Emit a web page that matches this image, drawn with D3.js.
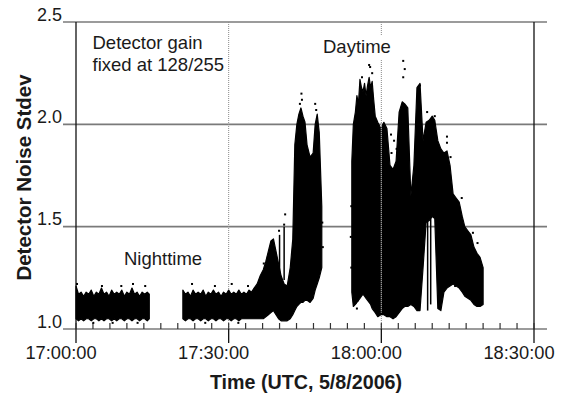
<!DOCTYPE html>
<html>
<head>
<meta charset="utf-8">
<script src="https://cdn.jsdelivr.net/npm/d3@7"></script>
<style>
  body { margin: 0; background: #fff; }
  svg { display: block; font-family: "Liberation Sans", Arial, sans-serif; }
</style>
</head>
<body>
<svg id="chart" width="562" height="396"></svg>
<script>
// minutes after 17:00:00 UTC, [t, low, high] of the dense point cloud
const nightA = [
  [0.0, 1.05, 1.21], [0.5, 1.04, 1.17], [1.0, 1.05, 1.18], [1.5, 1.04, 1.16],
  [2.0, 1.05, 1.18], [2.5, 1.05, 1.17], [3.0, 1.04, 1.19], [3.5, 1.05, 1.16],
  [4.0, 1.05, 1.18], [4.5, 1.04, 1.17], [5.0, 1.05, 1.20], [5.5, 1.04, 1.17],
  [6.0, 1.05, 1.18], [6.5, 1.05, 1.16], [7.0, 1.04, 1.19], [7.5, 1.05, 1.17],
  [8.0, 1.04, 1.18], [8.5, 1.05, 1.17], [9.0, 1.05, 1.19], [9.5, 1.04, 1.16],
  [10.0, 1.05, 1.18], [10.5, 1.05, 1.17], [11.0, 1.04, 1.20], [11.5, 1.05, 1.17],
  [12.0, 1.05, 1.18], [12.5, 1.04, 1.16], [13.0, 1.05, 1.18], [13.5, 1.05, 1.17],
  [14.0, 1.04, 1.18], [14.4, 1.05, 1.17]
];

const nightB = [
  [21.0, 1.05, 1.19], [21.5, 1.04, 1.17], [22.0, 1.05, 1.18], [22.5, 1.05, 1.16],
  [23.0, 1.04, 1.19], [23.5, 1.05, 1.17], [24.0, 1.05, 1.18], [24.5, 1.04, 1.17],
  [25.0, 1.05, 1.19], [25.5, 1.05, 1.16], [26.0, 1.04, 1.18], [26.5, 1.05, 1.17],
  [27.0, 1.05, 1.19], [27.5, 1.04, 1.17], [28.0, 1.05, 1.18], [28.5, 1.05, 1.16],
  [29.0, 1.04, 1.18], [29.5, 1.05, 1.17], [30.0, 1.05, 1.19], [30.5, 1.04, 1.17],
  [31.0, 1.05, 1.18], [31.5, 1.05, 1.17], [32.0, 1.04, 1.19], [32.5, 1.05, 1.17],
  [33.0, 1.05, 1.18], [33.5, 1.05, 1.17], [34.0, 1.05, 1.19], [34.5, 1.05, 1.18],
  [35.0, 1.05, 1.20], [35.6, 1.05, 1.22], [36.2, 1.05, 1.26], [36.8, 1.05, 1.29],
  [37.3, 1.06, 1.33], [37.8, 1.07, 1.38], [38.3, 1.08, 1.43], [38.8, 1.09, 1.44],
  [39.3, 1.07, 1.38], [39.8, 1.05, 1.32], [40.3, 1.04, 1.26], [40.9, 1.04, 1.22],
  [41.5, 1.04, 1.21], [42.1, 1.05, 1.30], [42.6, 1.07, 1.44], [43.0, 1.09, 1.90],
  [43.4, 1.11, 2.00], [43.8, 1.12, 2.05], [44.2, 1.13, 2.08], [44.6, 1.13, 2.04],
  [45.0, 1.14, 2.01], [45.4, 1.14, 1.90], [46.0, 1.13, 1.84], [46.6, 1.15, 1.86],
  [47.0, 1.19, 2.00], [47.4, 1.22, 2.05], [47.8, 1.25, 1.96], [48.3, 1.30, 1.60]
];

const daytime = [
  [54.2, 1.18, 1.82], [54.5, 1.11, 2.00], [54.9, 1.12, 2.06], [55.2, 1.13, 2.14],
  [55.5, 1.14, 2.10], [55.8, 1.15, 2.22], [56.1, 1.16, 2.18], [56.4, 1.17, 2.16],
  [56.7, 1.16, 2.20], [57.0, 1.15, 2.14], [57.3, 1.14, 2.19], [57.6, 1.13, 2.23],
  [57.9, 1.12, 2.18], [58.2, 1.10, 2.21], [58.5, 1.09, 2.12], [58.8, 1.08, 2.04],
  [59.3, 1.06, 2.01], [59.9, 1.07, 1.98], [60.5, 1.07, 2.01], [61.1, 1.06, 1.98],
  [61.7, 1.06, 1.80], [62.3, 1.05, 1.78], [62.9, 1.06, 1.82], [63.5, 1.08, 2.06],
  [64.1, 1.10, 2.11], [64.6, 1.11, 2.10], [65.2, 1.11, 2.08], [65.8, 1.12, 1.65],
  [66.4, 1.11, 1.80], [67.0, 1.09, 2.18], [67.6, 1.09, 2.20], [68.2, 1.30, 1.92],
  [68.8, 1.52, 2.01], [69.4, 1.53, 2.02], [70.0, 1.55, 2.04], [70.5, 1.54, 2.02],
  [71.1, 1.10, 1.92], [71.7, 1.09, 1.88], [72.3, 1.18, 1.86], [72.9, 1.20, 1.87],
  [73.5, 1.21, 1.80], [74.1, 1.22, 1.66], [74.7, 1.21, 1.64], [75.3, 1.20, 1.62],
  [75.9, 1.18, 1.55], [76.4, 1.16, 1.50], [77.0, 1.15, 1.48], [77.6, 1.14, 1.46],
  [78.2, 1.12, 1.40], [78.8, 1.11, 1.37], [79.4, 1.11, 1.35], [80.0, 1.12, 1.30]
];

const streaks = [
  [69.1, 1.09, 1.55], [69.7, 1.12, 1.55], [40.0, 1.20, 1.46], [40.9, 1.24, 1.50]
];

const dots = [
  [44.3, 2.15], [44.4, 2.12], [44.0, 2.10], [47.0, 2.10], [47.2, 2.07], [41.1, 1.56],
  [40.9, 1.51], [39.9, 1.48], [37.7, 1.35], [36.9, 1.32], [57.6, 2.29], [57.8, 2.28],
  [58.2, 2.25], [56.2, 2.23], [64.3, 2.31], [64.3, 2.23], [64.6, 2.27], [67.6, 2.19],
  [69.0, 2.06], [70.5, 2.04], [72.9, 1.94], [72.9, 1.91], [75.8, 1.64], [78.0, 1.47],
  [74.5, 1.21], [76.0, 1.26], [77.4, 1.21], [55.4, 1.14], [55.0, 1.13], [55.2, 1.10],
  [54.1, 1.30], [54.0, 1.45], [54.1, 1.60], [62.0, 1.86], [62.5, 1.92], [63.0, 1.88],
  [61.9, 1.95], [73.6, 1.84], [78.9, 1.42], [79.3, 1.20], [48.5, 1.40], [48.4, 1.52],
  [0.2, 1.22], [5.1, 1.21], [8.9, 1.21], [11.2, 1.22], [13.6, 1.21], [22.8, 1.22],
  [27.3, 1.21], [30.6, 1.22], [33.8, 1.21], [3.4, 1.03], [7.2, 1.03], [12.1, 1.03],
  [25.4, 1.03], [31.9, 1.03]
];

const yTicks = [1.0, 1.5, 2.0, 2.5];
const xTickMinutes = [0, 30, 60, 90];
const minorStepSeconds = 200;

const start = Date.UTC(2006, 4, 8, 17, 0, 0);
const toDate = (m) => new Date(start + m * 60000);

const svg = d3.select("#chart");
const ink = "#1a1a1a";

const x = d3.scaleUtc()
  .domain([toDate(0), toDate(90)])
  .range([76, 534]);

const y = d3.scaleLinear()
  .domain([1.0, 2.5])
  .range([329, 22]);

// horizontal grid
yTicks.forEach((v) => {
  svg.append("line")
    .attr("x1", 63).attr("x2", 547)
    .attr("y1", y(v)).attr("y2", y(v))
    .attr("stroke", "#7a7a7a")
    .attr("stroke-width", 1.6);
  svg.append("text")
    .text(v.toFixed(1))
    .attr("x", 62)
    .attr("y", y(v) - 1.5)
    .attr("text-anchor", "end")
    .attr("font-size", "18px")
    .attr("fill", ink);
});

// vertical lines at half-hours
xTickMinutes.forEach((m, i) => {
  const px = x(toDate(m));
  const edge = i === 0 || i === xTickMinutes.length - 1;
  if (!edge) {
    svg.append("line")
      .attr("x1", px).attr("x2", px)
      .attr("y1", y(2.5)).attr("y2", y(1.0))
      .attr("stroke", "#8a8a8a")
      .attr("stroke-width", 1)
      .attr("stroke-dasharray", "1,1");
  }
  svg.append("line")
    .attr("x1", px).attr("x2", px)
    .attr("y1", edge ? y(2.5) : y(1.0)).attr("y2", y(1.0) + 14)
    .attr("stroke", "#111")
    .attr("stroke-width", 1.3);
  // labels sit a little left of their tick in the original
  svg.append("text")
    .text(d3.utcFormat("%H:%M:%S")(toDate(m)))
    .attr("x", px - 15)
    .attr("y", 359)
    .attr("text-anchor", "middle")
    .attr("font-size", "18.3px")
    .attr("fill", ink);
});

// minor ticks
d3.range(0, 90 * 60 + 1, minorStepSeconds).forEach((s) => {
  const px = x(toDate(s / 60));
  svg.append("line")
    .attr("x1", px).attr("x2", px)
    .attr("y1", y(1.0)).attr("y2", y(1.0) - 6)
    .attr("stroke", "#333")
    .attr("stroke-width", 1.2);
});

// point cloud
const area = d3.area()
  .x((d) => x(toDate(d[0])))
  .y0((d) => y(d[1]))
  .y1((d) => y(d[2]));

[nightA, nightB, daytime].forEach((seg) => {
  svg.append("path")
    .datum(seg)
    .attr("d", area)
    .attr("fill", "#000")
    .attr("stroke", "#000")
    .attr("stroke-width", 1.2)
    .attr("stroke-linejoin", "round");
});

svg.append("g")
  .selectAll("line")
  .data(streaks)
  .join("line")
  .attr("x1", (d) => x(toDate(d[0])))
  .attr("x2", (d) => x(toDate(d[0])))
  .attr("y1", (d) => y(d[1]))
  .attr("y2", (d) => y(d[2]))
  .attr("stroke", "#000")
  .attr("stroke-width", 1.5);

svg.append("g")
  .selectAll("rect")
  .data(dots)
  .join("rect")
  .attr("x", (d) => x(toDate(d[0])) - 1)
  .attr("y", (d) => y(d[1]) - 1)
  .attr("width", 2)
  .attr("height", 2)
  .attr("fill", "#000");

// 18:00 column shows through the data
svg.append("line")
  .attr("x1", x(toDate(60))).attr("x2", x(toDate(60)))
  .attr("y1", y(2.0)).attr("y2", y(1.08))
  .attr("stroke", "#d8d8d8")
  .attr("stroke-width", 1.2)
  .attr("stroke-dasharray", "1,1");

// annotations
const note = (lines, px, py, box) => {
  const g = svg.append("g");
  const t = g.append("text")
    .attr("font-size", "18.5px")
    .attr("fill", ink);
  lines.forEach((s, i) => {
    t.append("tspan").text(s).attr("x", px).attr("y", py + i * 21.5);
  });
  if (box) {
    const b = t.node().getBBox();
    g.insert("rect", "text")
      .attr("x", b.x - 2).attr("y", b.y)
      .attr("width", b.width + 4).attr("height", b.height + 2)
      .attr("fill", "#fff");
  }
};
note(["Detector gain", "fixed at 128/255"], 92.5, 49, false);
note(["Daytime"], 323, 53, true);
note(["Nighttime"], 124, 265, false);

// axis titles
svg.append("text")
  .text("Time (UTC, 5/8/2006)")
  .attr("x", 306)
  .attr("y", 389)
  .attr("text-anchor", "middle")
  .attr("font-size", "19.7px")
  .attr("font-weight", "bold")
  .attr("fill", ink);

svg.append("text")
  .text("Detector Noise Stdev")
  .attr("transform", "translate(31,177.5) rotate(-90)")
  .attr("text-anchor", "middle")
  .attr("font-size", "20.5px")
  .attr("font-weight", "bold")
  .attr("fill", ink);
</script>
</body>
</html>
